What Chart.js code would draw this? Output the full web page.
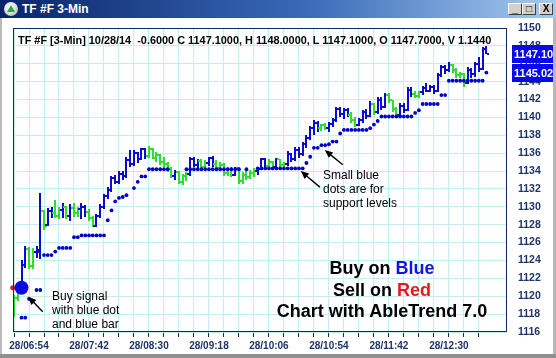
<!DOCTYPE html>
<html lang="en">
<head>
<meta charset="UTF-8">
<title>TF #F 3-Min</title>
<script src="https://cdn.jsdelivr.net/npm/chart.js@4.4.1/dist/chart.umd.min.js"></script>
<style>
  * { box-sizing: border-box; }
  body { margin: 0; background: #fff; font-family: "Liberation Sans", Arial, sans-serif; }
  #win { position: relative; width: 556px; height: 358px; overflow: hidden; background: #fff; }
  #chart { position: absolute; left: 0; top: 0; }
  .abs { position: absolute; white-space: nowrap; }
  #titlebar {
    left: 0; top: 0; width: 556px; height: 18px;
    background: linear-gradient(to right, #0a246a 0%, #3a6ab8 55%, #a6caf0 100%);
  }
  #titlebar .txt { left: 22px; top: 2px; color: #fff; font: bold 12px "Liberation Sans", Arial, sans-serif; line-height: 14px; }
  #icon { left: 4px; top: 2px; width: 14px; height: 14px; border-radius: 50%;
    background: radial-gradient(circle at 40% 35%, #ffffff 0%, #cfd8d8 60%, #7c8c8c 100%); }
  #icon:after { content: ""; position: absolute; left: 3px; top: 3px; width: 0; height: 0;
    border-left: 4px solid transparent; border-right: 4px solid transparent; border-bottom: 7px solid #2aa84a; }
  .btn { top: 3px; width: 14px; height: 12px; background: #d4d0c8;
    border: 1px solid; border-color: #ffffff #404040 #404040 #ffffff;
    font: bold 10px "Liberation Sans", Arial, sans-serif; line-height: 10px; text-align: center; color: #000; }
  .frame { position: absolute; background: #b8b8b8; }
  #header { left: 18px; top: 34px; font: bold 10.9px "Liberation Sans", Arial, sans-serif; line-height: 13px; color: #000; }
  .note { font: 12px "Liberation Sans", Arial, sans-serif; line-height: 14px; color: #000; }
  #big { left: 262px; top: 258px; width: 240px; text-align: center;
    font: bold 18px "Liberation Sans", Arial, sans-serif; line-height: 21.5px; color: #000; }
</style>
</head>
<body>
<div id="win">
  <canvas id="chart" width="556" height="358"></canvas>

  <div class="abs" id="titlebar">
    <div class="abs" id="icon"></div>
    <div class="abs txt">TF #F 3-Min</div>
    <div class="abs btn" style="left:508px;">_</div>
    <div class="abs btn" style="left:522px;">&#9633;</div>
    <div class="abs btn" style="left:539px;">X</div>
  </div>
  <div class="frame" style="left:0;top:18px;width:2px;height:340px;"></div>
  <div class="frame" style="left:553px;top:18px;width:3px;height:340px;"></div>
  <div class="frame" style="left:0;top:354px;width:556px;height:4px;background:#909090;"></div>

  <div class="abs" id="header">TF #F [3-Min] 10/28/14&nbsp; -0.6000 C 1147.1000, H 1148.0000, L 1147.1000, O 1147.7000, V 1.1440</div>

  <div class="abs note" style="left:52px;top:289px;">Buy signal<br>with blue dot<br>and blue bar</div>
  <div class="abs note" style="left:323px;top:168px;">Small blue<br>dots are for<br>support levels</div>

  <div class="abs" id="big">Buy on <span style="color:#1414e0">Blue</span><br>Sell on <span style="color:#e81818">Red</span><br>Chart with AbleTrend 7.0</div>
</div>

<script>
    // 3-min bars, 28/06:42 .. 28/13:00
    const open = [
        1118.0, 1119.8, 1121.0, 1123.5, 1125.3, 1123.4, 1124.9, 1125.0, 1129.5, 1128.0,
        1129.5, 1129.3, 1129.0, 1129.6, 1130.0, 1129.0, 1129.9, 1129.3, 1129.8, 1130.0,
        1129.4, 1128.7, 1127.9, 1129.0, 1130.0, 1131.2, 1131.9, 1133.2, 1132.8, 1133.7,
        1133.4, 1135.2, 1134.8, 1136.0, 1135.3, 1136.5, 1135.7, 1136.5, 1135.5, 1135.8,
        1135.0, 1134.8, 1134.2, 1133.5, 1133.9, 1132.8, 1133.4, 1133.7, 1135.4, 1134.7,
        1135.1, 1134.5, 1134.9, 1135.5, 1134.8, 1134.3, 1134.7, 1133.8, 1134.2, 1133.6,
        1134.3, 1132.9, 1133.6, 1133.3, 1133.8, 1134.0, 1134.2, 1135.3, 1134.6, 1135.0,
        1134.5, 1135.3, 1134.7, 1134.8, 1135.9, 1135.3, 1136.4, 1135.9, 1137.0, 1137.7,
        1138.8, 1139.4, 1138.8, 1139.1, 1138.8, 1139.3, 1139.7, 1140.9, 1140.4, 1140.8,
        1140.3, 1139.7, 1139.2, 1139.7, 1140.6, 1140.2, 1141.5, 1140.6, 1142.0, 1141.2,
        1142.5, 1141.9, 1140.9, 1140.3, 1141.3, 1140.8, 1143.1, 1142.6, 1142.4, 1142.8,
        1143.3, 1143.0, 1143.4, 1142.9, 1144.7, 1145.6, 1145.3, 1145.9, 1145.3, 1144.7,
        1144.9, 1143.8, 1145.3, 1144.8, 1146.0, 1145.4, 1147.7
    ];
    const high = [
        1120.1, 1120.9, 1124.0, 1125.6, 1125.5, 1125.4, 1125.6, 1131.5, 1129.6, 1129.9,
        1130.0, 1130.8, 1130.0, 1130.4, 1130.1, 1130.3, 1130.4, 1130.0, 1130.4, 1130.2,
        1129.8, 1129.0, 1129.2, 1130.3, 1131.4, 1132.2, 1133.5, 1133.6, 1134.0, 1134.0,
        1135.6, 1136.4, 1136.3, 1136.1, 1136.6, 1136.6, 1136.8, 1136.6, 1136.1, 1135.9,
        1135.6, 1135.0, 1134.4, 1134.1, 1134.0, 1133.7, 1133.9, 1135.6, 1135.6, 1135.4,
        1135.3, 1135.2, 1135.6, 1135.7, 1135.2, 1135.0, 1134.9, 1134.5, 1134.4, 1134.5,
        1134.4, 1133.9, 1134.2, 1134.1, 1134.3, 1134.4, 1135.5, 1135.5, 1135.3, 1135.1,
        1135.5, 1135.4, 1135.0, 1136.2, 1136.0, 1136.7, 1136.7, 1137.3, 1138.0, 1139.0,
        1139.7, 1139.6, 1139.3, 1139.4, 1139.5, 1139.9, 1141.2, 1141.2, 1141.1, 1141.0,
        1140.6, 1140.0, 1139.9, 1140.8, 1140.9, 1141.8, 1141.6, 1142.3, 1142.3, 1142.7,
        1142.7, 1142.0, 1141.2, 1141.6, 1141.6, 1143.4, 1143.4, 1143.0, 1143.0, 1143.5,
        1143.8, 1143.6, 1143.6, 1145.0, 1145.9, 1145.9, 1146.2, 1146.0, 1145.5, 1145.1,
        1145.0, 1145.6, 1145.5, 1146.2, 1146.8, 1147.9, 1148.0
    ];
    const low = [
        1117.7, 1119.5, 1120.8, 1123.2, 1123.0, 1123.1, 1124.3, 1124.2, 1127.4, 1127.9,
        1128.8, 1128.7, 1128.6, 1128.8, 1128.6, 1128.4, 1128.9, 1128.9, 1128.6, 1128.9,
        1128.4, 1127.7, 1127.7, 1128.8, 1129.8, 1130.9, 1131.7, 1132.5, 1132.6, 1133.0,
        1133.2, 1134.4, 1134.6, 1134.9, 1135.2, 1135.4, 1135.5, 1135.3, 1135.0, 1134.7,
        1134.5, 1133.9, 1133.2, 1133.0, 1132.5, 1132.4, 1132.9, 1133.5, 1134.4, 1134.2,
        1134.2, 1134.2, 1134.6, 1134.5, 1134.0, 1134.0, 1133.5, 1133.4, 1133.3, 1133.4,
        1132.6, 1132.5, 1133.0, 1133.1, 1133.3, 1133.6, 1134.1, 1134.3, 1134.4, 1134.3,
        1134.4, 1134.4, 1134.3, 1134.6, 1135.0, 1135.1, 1135.5, 1135.7, 1136.6, 1137.5,
        1138.0, 1138.4, 1138.5, 1138.6, 1138.4, 1138.9, 1139.5, 1140.0, 1139.8, 1140.0,
        1139.4, 1138.9, 1139.0, 1139.4, 1139.8, 1140.0, 1140.3, 1140.4, 1140.8, 1141.0,
        1141.6, 1140.6, 1140.0, 1140.2, 1140.5, 1140.7, 1142.3, 1142.2, 1142.2, 1142.5,
        1142.8, 1142.8, 1142.6, 1142.8, 1144.5, 1144.9, 1145.1, 1145.0, 1144.4, 1144.4,
        1143.4, 1143.7, 1144.4, 1144.5, 1145.1, 1145.3, 1147.1
    ];
    const close = [
        1119.8, 1120.6, 1123.5, 1125.3, 1123.4, 1124.9, 1125.2, 1129.5, 1127.9, 1129.5,
        1129.3, 1129.0, 1129.6, 1130.0, 1129.0, 1129.9, 1129.3, 1129.8, 1130.0, 1129.4,
        1128.7, 1127.9, 1129.0, 1130.0, 1131.2, 1131.9, 1133.2, 1132.8, 1133.7, 1133.4,
        1135.2, 1134.8, 1136.0, 1135.3, 1136.5, 1135.7, 1136.5, 1135.5, 1135.8, 1135.0,
        1134.8, 1134.2, 1133.5, 1133.9, 1132.8, 1133.4, 1133.7, 1135.4, 1134.7, 1135.1,
        1134.5, 1134.9, 1135.5, 1134.8, 1134.3, 1134.7, 1133.8, 1134.2, 1133.6, 1134.3,
        1132.9, 1133.6, 1133.3, 1133.8, 1134.0, 1134.2, 1135.3, 1134.6, 1135.0, 1134.5,
        1135.3, 1134.7, 1134.8, 1135.9, 1135.3, 1136.4, 1135.9, 1137.0, 1137.7, 1138.8,
        1139.4, 1138.8, 1139.1, 1138.8, 1139.3, 1139.7, 1140.9, 1140.4, 1140.8, 1140.3,
        1139.7, 1139.2, 1139.7, 1140.6, 1140.2, 1141.5, 1140.6, 1142.0, 1141.2, 1142.5,
        1141.9, 1140.9, 1140.3, 1141.3, 1140.8, 1143.1, 1142.6, 1142.4, 1142.8, 1143.3,
        1143.0, 1143.4, 1142.9, 1144.7, 1145.6, 1145.3, 1145.9, 1145.3, 1144.7, 1144.9,
        1143.8, 1145.3, 1144.8, 1146.0, 1145.4, 1147.7, 1147.1
    ];
    // B = blue (up trend) bar, G = green bar
    const trend = (
        'GGBBGGBBGB' + 'BGGBGBGGBB' + 'GGBBBBBBBB' + 'BBBBBBGGGG' + 'GGGBGGGBBB' +
        'GGBBGGGGGB' + 'GGGGGBBBGG' + 'BGGBBBBBBB' + 'BBGGBBBBBB' + 'GGBBBBGBBB' +
        'GGGBBBBGGB' + 'BBBBBBBGGG' + 'GBBBBBB'
    ).split('');
    // small blue support dots
    const support = [
        null, null, 1117.6, 1117.6, 1119.7, null, 1120.7, 1120.7, 1124.6, 1124.6,
        1124.6, 1125.0, 1125.4, 1125.4, 1125.4, 1125.4, 1126.6, 1126.6, 1126.8, 1126.8,
        1126.8, 1126.8, 1126.8, 1126.8, 1126.8, 1128.5, 1129.6, 1130.6, 1131.0, 1131.1,
        1131.3, null, 1132.1, 1132.8, 1133.4, 1133.4, 1134.2, 1134.2, 1134.2, 1134.2,
        1134.2, 1134.2, null, null, null, null, 1134.2, 1134.2, 1134.2, 1134.2,
        1134.2, 1134.2, 1134.2, 1134.2, 1134.2, 1134.2, 1134.2, 1134.2, 1134.2, 1134.2,
        1134.2, null, 1134.2, null, null, 1134.3, 1134.3, 1134.3, 1134.3, 1134.3,
        1134.3, 1134.3, 1134.3, 1134.3, 1134.3, 1134.3, 1134.3, 1134.3, 1134.9, 1135.6,
        1136.6, 1136.6, 1136.9, 1136.9, 1137.0, 1137.3, 1137.3, 1138.2, 1138.6, 1138.6,
        1138.6, 1138.6, 1138.6, 1138.6, 1138.6, 1138.8, 1139.2, 1139.6, 1140.1, 1140.1,
        1140.1, 1140.1, 1140.1, 1140.1, 1140.1, 1140.1, 1140.1, 1140.5, 1140.8, 1141.5,
        1141.5, 1141.5, 1141.5, 1141.5, 1142.5, 1142.5, 1144.1, 1144.1, 1144.1, 1144.1,
        1144.1, 1144.1, 1144.1, 1144.1, 1144.1, 1144.1, 1145.02
    ];
    const buySignal = [{ x: 2, y: 1120.95 }];
    const sellSignal = [{ x: -0.35, y: 1120.95 }];

    const xTickLabels = ['28/06:54', '28/07:42', '28/08:30', '28/09:18', '28/10:06', '28/10:54', '28/11:42', '28/12:30'];
    const firstLabelBar = 4;   // 28/06:54 is the 5th bar
    const barsPerLabel = 16;
    const barsPerTick = 4;

    const priceMarks = ['1147.10', '1145.02'];
    // [fromBar, fromPrice, toBar, toPrice]
    const arrows = [
        [7.65, 1118.27, 3.8, 1119.95],
        [81.6, 1132.2, 76.5, 1134.0],
        [87.7, 1134.7, 82.9, 1136.35]
    ];

    const BLUE = '#0a0ad2';
    const GREEN = '#2ee02e';
    const DOT = '#0000cc';
    const AXIS = '#1f3466';
    const GRID = '#c4eef2';
    const BORDER = '#0d2b5c';

    const ohlcPlugin = {
        id: 'ohlc',
        beforeDraw(chart) {
            const ctx = chart.ctx;
            ctx.save();
            ctx.fillStyle = '#fff';
            ctx.fillRect(0, 0, chart.width, chart.height);
            ctx.restore();
        },
        beforeDatasetsDraw(chart) {
            const { ctx, chartArea: a, scales: { x, y } } = chart;
            ctx.save();
            ctx.beginPath();
            ctx.rect(a.left, a.top, a.right - a.left, a.bottom - a.top);
            ctx.clip();
            open.forEach((o, i) => {
                const px = Math.round(x.getPixelForValue(i));
                const yh = Math.round(y.getPixelForValue(high[i]));
                const yl = Math.round(y.getPixelForValue(low[i]));
                const yo = Math.round(y.getPixelForValue(o));
                const yc = Math.round(y.getPixelForValue(close[i]));
                ctx.fillStyle = trend[i] === 'B' ? BLUE : GREEN;
                ctx.fillRect(px - 1, yh, 2, Math.max(2, yl - yh));
                ctx.fillRect(px - 3, yo - 1, 2, 2);
                ctx.fillRect(px + 1, yc - 1, 2, 2);
            });
            ctx.restore();
        },
        afterDraw(chart) {
            const { ctx, chartArea: a, scales: { x, y } } = chart;
            ctx.save();
            // plot box
            ctx.strokeStyle = BORDER;
            ctx.lineWidth = 1;
            ctx.strokeRect(Math.round(a.left) + 0.5, Math.round(a.top) + 0.5,
                Math.round(a.right - a.left) - 1, Math.round(a.bottom - a.top) - 1);

            // arrows
            ctx.strokeStyle = '#000';
            ctx.fillStyle = '#000';
            ctx.lineWidth = 1.4;
            arrows.forEach(([b0, p0, b1, p1]) => {
                const x0 = x.getPixelForValue(b0), y0 = y.getPixelForValue(p0);
                const x1 = x.getPixelForValue(b1), y1 = y.getPixelForValue(p1);
                const ang = Math.atan2(y1 - y0, x1 - x0);
                ctx.beginPath();
                ctx.moveTo(x0, y0);
                ctx.lineTo(x1 - 6 * Math.cos(ang), y1 - 6 * Math.sin(ang));
                ctx.stroke();
                ctx.beginPath();
                ctx.moveTo(x1, y1);
                ctx.lineTo(x1 - 8 * Math.cos(ang) + 3.5 * Math.sin(ang), y1 - 8 * Math.sin(ang) - 3.5 * Math.cos(ang));
                ctx.lineTo(x1 - 8 * Math.cos(ang) - 3.5 * Math.sin(ang), y1 - 8 * Math.sin(ang) + 3.5 * Math.cos(ang));
                ctx.closePath();
                ctx.fill();
            });

            // last price / last support boxes
            const bx = a.right + 5;
            ctx.fillStyle = '#0a0ae6';
            priceMarks.forEach(p => {
                const py = y.getPixelForValue(+p);
                ctx.fillRect(bx, Math.round(py) - 9, chart.width - bx, 18);
            });
            ctx.fillStyle = '#fff';
            ctx.font = 'bold 11px "Liberation Sans", Arial, sans-serif';
            ctx.textBaseline = 'middle';
            priceMarks.forEach(p => {
                ctx.fillText(p, bx + 2, Math.round(y.getPixelForValue(+p)) + 1);
            });
            ctx.restore();
        }
    };

    new Chart(document.getElementById('chart'), {
        type: 'scatter',
        data: {
            datasets: [{
                data: buySignal,
                pointRadius: 7,
                backgroundColor: '#0a0ae6',
                borderWidth: 0,
                order: 0
            }, {
                data: sellSignal,
                pointRadius: 2.5,
                backgroundColor: '#e81818',
                borderWidth: 0,
                clip: false,
                order: 1
            }, {
                data: support.map((v, i) => v === null ? null : { x: i, y: v }).filter(p => p),
                pointRadius: 1.9,
                backgroundColor: DOT,
                borderWidth: 0,
                order: 2
            }]
        },
        options: {
            responsive: false,
            animation: false,
            devicePixelRatio: 1,
            layout: { padding: { left: 13, top: 28, right: 0, bottom: 0 } },
            plugins: { legend: { display: false }, tooltip: { enabled: false } },
            scales: {
                x: {
                    type: 'linear',
                    min: -0.27,
                    max: 131.5,
                    afterFit: s => { s.height = 26; },
                    afterBuildTicks: s => {
                        const t = [];
                        for (let v = 0; v < open.length; v += barsPerTick) t.push({ value: v });
                        s.ticks = t;
                    },
                    border: { display: false },
                    grid: { color: GRID, tickColor: BORDER, tickLength: 5, lineWidth: 1 },
                    ticks: {
                        autoSkip: false,
                        maxRotation: 0,
                        padding: 3,
                        color: AXIS,
                        font: { family: '"Liberation Sans", Arial, sans-serif', size: 10, weight: 'bold' },
                        callback: v => {
                            const k = (v - firstLabelBar) / barsPerLabel;
                            return Number.isInteger(k) && k >= 0 ? xTickLabels[k] : '';
                        }
                    }
                },
                y: {
                    position: 'right',
                    min: 1116,
                    max: 1150,
                    afterFit: s => { s.width = 49; },
                    border: { display: false },
                    grid: { color: GRID, drawTicks: false, lineWidth: 1 },
                    ticks: {
                        stepSize: 2,
                        padding: 11,
                        color: AXIS,
                        font: { family: '"Liberation Sans", Arial, sans-serif', size: 10.5, weight: 'bold' },
                        callback: v => String(v)
                    }
                }
            }
        },
        plugins: [ohlcPlugin]
    });
</script>
</body>
</html>
